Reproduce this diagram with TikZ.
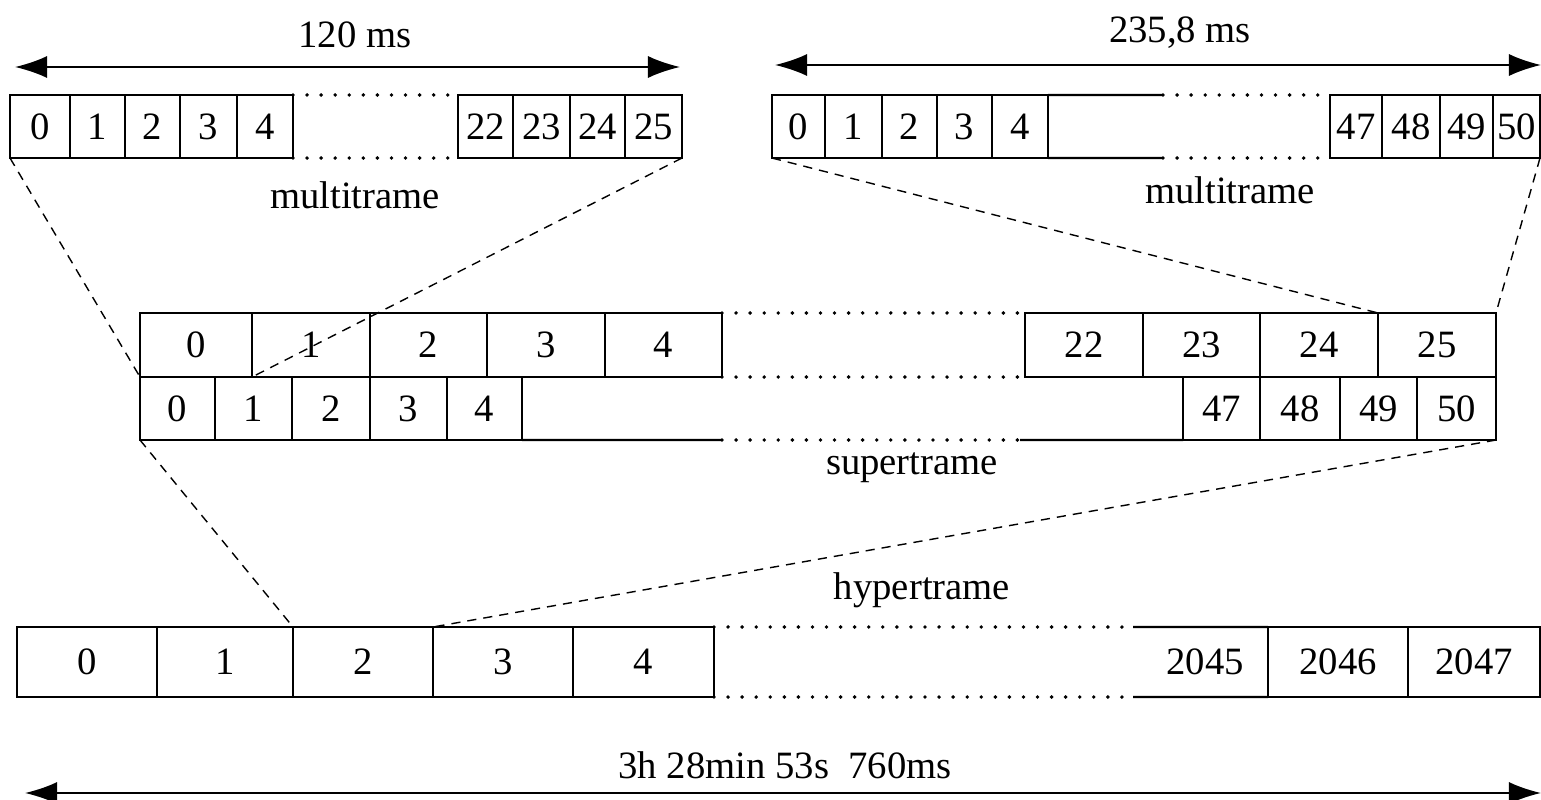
\documentclass[tikz,border=0pt]{standalone}
\usepackage{fontspec}
\setmainfont{Liberation Serif}
\usetikzlibrary{arrows.meta}
\tikzset{
  cell/.style={draw, line width=0.6pt, inner sep=0pt, outer sep=0pt},
  frame/.style={line width=0.6pt},
  gap/.style={line width=1.1pt, line cap=round, dash pattern=on 0pt off 4pt},
  link/.style={line width=0.4pt, dash pattern=on 2.6pt off 2pt},
  span/.style={line width=0.5pt, {Latex[length=0.32cm,width=0.22cm]}-{Latex[length=0.32cm,width=0.22cm]}},
  every node/.style={font=\fontsize{11pt}{13pt}\selectfont}
}
\begin{document}
\begin{tikzpicture}[x=0.01cm,y=-0.01cm]
\useasboundingbox (0,0) rectangle (1541,800);
% multitrame 26
\foreach \t/\l/\r in {0/10/70,1/70/125,2/125/180,3/180/237,4/237/293,22/458/513,23/513/570,24/570/625,25/625/682}
  \node[cell, minimum width={(\r-\l)*0.01cm}, minimum height=0.63cm] (mA\t) at ({(\l+\r)/2},126.5) {\t};
\draw[gap] (mA4.north east) -- (mA22.north west);
\draw[gap] (mA4.south east) -- (mA22.south west);
\node (msA) at (355,195) {multitrame};
\coordinate (aAl) at (15,67);
\coordinate (aAr) at (680,67);
\draw[span] (aAl) -- (aAr);
\node (tA) at (355,35) {120 ms};
% multitrame 51
\foreach \t/\l/\r in {0/772/825,1/825/882,2/882/937,3/937/992,4/992/1048,47/1330/1382,48/1382/1440,49/1440/1493,50/1493/1540}
  \node[cell, minimum width={(\r-\l)*0.01cm}, minimum height=0.63cm] (mB\t) at ({(\l+\r)/2},126.5) {\t};
\coordinate (mBnt) at (1163,95);
\coordinate (mBnb) at (1163,158);
\draw[frame] (mB4.north east) -- (mBnt);
\draw[frame] (mB4.south east) -- (mBnb);
\draw[gap] (mBnt) -- (mB47.north west);
\draw[gap] (mBnb) -- (mB47.south west);
\node (msB) at (1230,190) {multitrame};
\coordinate (aBl) at (775,65);
\coordinate (aBr) at (1541,65);
\draw[span] (aBl) -- (aBr);
\node (tB) at (1180,33) {235,8 ms};
% supertrame
\foreach \t/\l/\r in {0/140/252,1/252/370,2/370/487,3/487/605,4/605/722,22/1025/1143,23/1143/1260,24/1260/1378,25/1378/1496}
  \node[cell, minimum width={(\r-\l)*0.01cm}, minimum height=0.64cm] (sA\t) at ({(\l+\r)/2},345) {\t};
\foreach \t/\l/\r in {0/140/215,1/215/292,2/292/370,3/370/447,4/447/522,47/1183/1260,48/1260/1340,49/1340/1417,50/1417/1496}
  \node[cell, minimum width={(\r-\l)*0.01cm}, minimum height=0.63cm] (sB\t) at ({(\l+\r)/2},408.5) {\t};
\coordinate (sBl) at (722,440);
\coordinate (sBr) at (1020,440);
\draw[frame] (sB4.south east) -- (sBl);
\draw[frame] (sBr) -- (sB47.south west);
\draw[gap] (sBl) -- (sBr);
\draw[gap] (sA4.north east) -- (sA22.north west);
\draw[gap] (sA4.south east) -- (sA22.south west);
\node (sup) at (912,468) {supertrame};
% hypertrame
\foreach \t/\l/\r in {0/17/157,1/157/293,2/293/433,3/433/573,4/573/714,2046/1268/1408,2047/1408/1540}
  \node[cell, minimum width={(\r-\l)*0.01cm}, minimum height=0.70cm] (h\t) at ({(\l+\r)/2},662) {\t};
\node (h2045) at (1205,662) {2045};
\coordinate (hnt) at (1133,627);
\coordinate (hnb) at (1133,697);
\draw[frame] (hnt) -- (h2046.north west);
\draw[frame] (hnb) -- (h2046.south west);
\draw[gap] (h4.north east) -- (hnt);
\draw[gap] (h4.south east) -- (hnb);
\node (hyp) at (922,590) {hypertrame};
\coordinate (aHl) at (25,793);
\coordinate (aHr) at (1541,793);
\draw[span] (aHl) -- (aHr);
\node (tH) at (785,765) {3h 28min 53s\ \ 760ms};
% zoom lines
\draw[link] (mA0.south west) -- (sB0.north west);
\draw[link] (mA25.south east) -- (sA1.south west);
\draw[link] (mB0.south west) -- (sA25.north west);
\draw[link] (mB50.south east) -- (sA25.north east);
\draw[link] (sB0.south west) -- (h2.north west);
\draw[link] (sB50.south east) -- (h3.north west);
\end{tikzpicture}
\end{document}
